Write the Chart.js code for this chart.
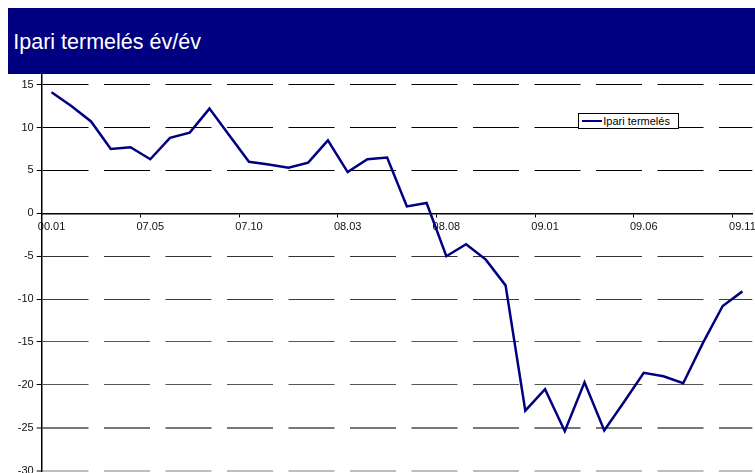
<!DOCTYPE html>
<html>
<head>
<meta charset="utf-8">
<script src="https://cdn.jsdelivr.net/npm/chart.js@4.4.0/dist/chart.umd.min.js"></script>
<style>
html,body{margin:0;padding:0;background:#fff;}
#wrap{position:relative;width:755px;height:473px;overflow:hidden;}
#c{position:absolute;left:0;top:0;}
#title{position:absolute;left:8px;top:8px;width:747px;height:66px;background:#000080;}
#title span{position:absolute;left:5.3px;top:23.8px;color:#fff;font-family:'Liberation Sans',Arial,sans-serif;font-size:21.5px;line-height:1;white-space:nowrap;}
#legend{position:absolute;left:578px;top:112.5px;width:99px;height:14px;border:1px solid #000;background:#fff;font-family:'Liberation Sans',Arial,sans-serif;font-size:11px;color:#000;}
#legend .sw{position:absolute;left:2.7px;top:6px;width:20px;height:2.5px;}
#legend .tx{position:absolute;left:24.3px;top:0;line-height:14px;white-space:nowrap;}
</style>
</head>
<body>
<div id="wrap">
  <canvas id="c" width="755" height="473" style="width:755px;height:473px"></canvas>
  <div id="title"><span>Ipari termelés év/év</span></div>
  <div id="legend"></div>
</div>
<script>
// ---- data ----
const categories = ['06.12','07.01','07.02','07.03','07.04','07.05','07.06','07.07','07.08','07.09','07.10','07.11','07.12',
  '08.01','08.02','08.03','08.04','08.05','08.06','08.07','08.08','08.09','08.10','08.11','08.12',
  '09.01','09.02','09.03','09.04','09.05','09.06','09.07','09.08','09.09','09.10','09.11'];
const tickLabels = ['00.01','07.05','07.10','08.03','08.08','09.01','09.06','09.11'];
const seriesName = 'Ipari termelés';
const ipariTermeles = [14.1, 12.5, 10.7, 7.5, 7.7, 6.3, 8.8, 9.4, 12.2, 9.1, 6.0, 5.7, 5.3, 5.9, 8.5, 4.8, 6.3, 6.5, 0.8, 1.2,
  -5.0, -3.6, -5.4, -8.4, -23.0, -20.5, -25.4, -19.7, -25.3, -22.0, -18.6, -19.0, -19.8, -15.1, -10.8, -9.1];
const yMin = -30, yMax = 20, yStep = 5;
const labelEvery = 5;

const FONT = "'Liberation Sans', Arial, sans-serif";
const lineColor = '#000080';

function gridColorFor(v){
  if (v === 0 || v > 15) return 'rgba(0,0,0,0)';
  if (v > 0) return '#000';
  if (v === -5) return '#333';
  if (v === -10) return '#3c3c3c';
  if (v === -15) return '#555';
  if (v === -20) return '#555';
  if (v === -25) return '#777';
  return '#bdbdbd';
}

const chart = new Chart(document.getElementById('c'), {
  type: 'line',
  data: {
    labels: categories,
    datasets: [{
      label: seriesName,
      data: ipariTermeles,
      borderColor: lineColor,
      backgroundColor: lineColor,
      borderWidth: 2.5,
      pointRadius: 0,
      pointHoverRadius: 0,
      tension: 0,
      fill: false
    }]
  },
  options: {
    responsive: false,
    animation: false,
    events: [],
    layout: { padding: { top: 41.7, left: 0, right: 2.7, bottom: 2.3 } },
    plugins: { legend: { display: false }, title: { display: false }, tooltip: { enabled: false } },
    scales: {
      x: {
        type: 'category',
        position: { y: 0 },
        offset: true,
        grid: {
          offset: true,
          drawOnChartArea: false,
          drawTicks: true,
          tickLength: 3,
          tickWidth: 1,
          tickColor: (ctx) => (ctx.index % labelEvery === 0 && ctx.index < categories.length) ? '#000' : 'rgba(0,0,0,0)'
        },
        border: { display: true, color: '#000', width: 1.5 },
        ticks: {
          autoSkip: false,
          maxRotation: 0,
          minRotation: 0,
          padding: 4,
          color: '#111',
          font: { family: FONT, size: 11 },
          callback: (v, i) => (i % labelEvery === 0) ? tickLabels[i / labelEvery] : ''
        },
        afterFit: (s) => { s.paddingLeft = 0; s.paddingRight = 0; }
      },
      y: {
        type: 'linear',
        min: yMin,
        max: yMax,
        ticks: {
          stepSize: yStep,
          padding: 3,
          color: '#111',
          font: { family: FONT, size: 11 },
          callback: (v) => String(v)
        },
        grid: {
          drawTicks: true,
          tickLength: 5,
          color: (ctx) => gridColorFor(ctx.tick.value),
          lineWidth: (ctx) => (ctx.tick.value <= -25 ? 2 : 1),
          tickColor: (ctx) => (ctx.tick.value > 15 ? 'rgba(0,0,0,0)' : '#000'),
          tickWidth: 1
        },
        border: { display: true, color: '#000', width: 1.5, dash: [46, 15.5] },
        afterFit: (s) => { s.width = 41.7; s.paddingTop = 0; s.paddingBottom = 0; }
      }
    }
  }
});

// HTML legend built from the chart's dataset
(function(){
  const lg = document.getElementById('legend');
  chart.data.datasets.forEach(ds => {
    const sw = document.createElement('div');
    sw.className = 'sw';
    sw.style.background = ds.borderColor;
    const tx = document.createElement('div');
    tx.className = 'tx';
    tx.textContent = ds.label;
    lg.appendChild(sw); lg.appendChild(tx);
  });
})();
</script>
</body>
</html>
